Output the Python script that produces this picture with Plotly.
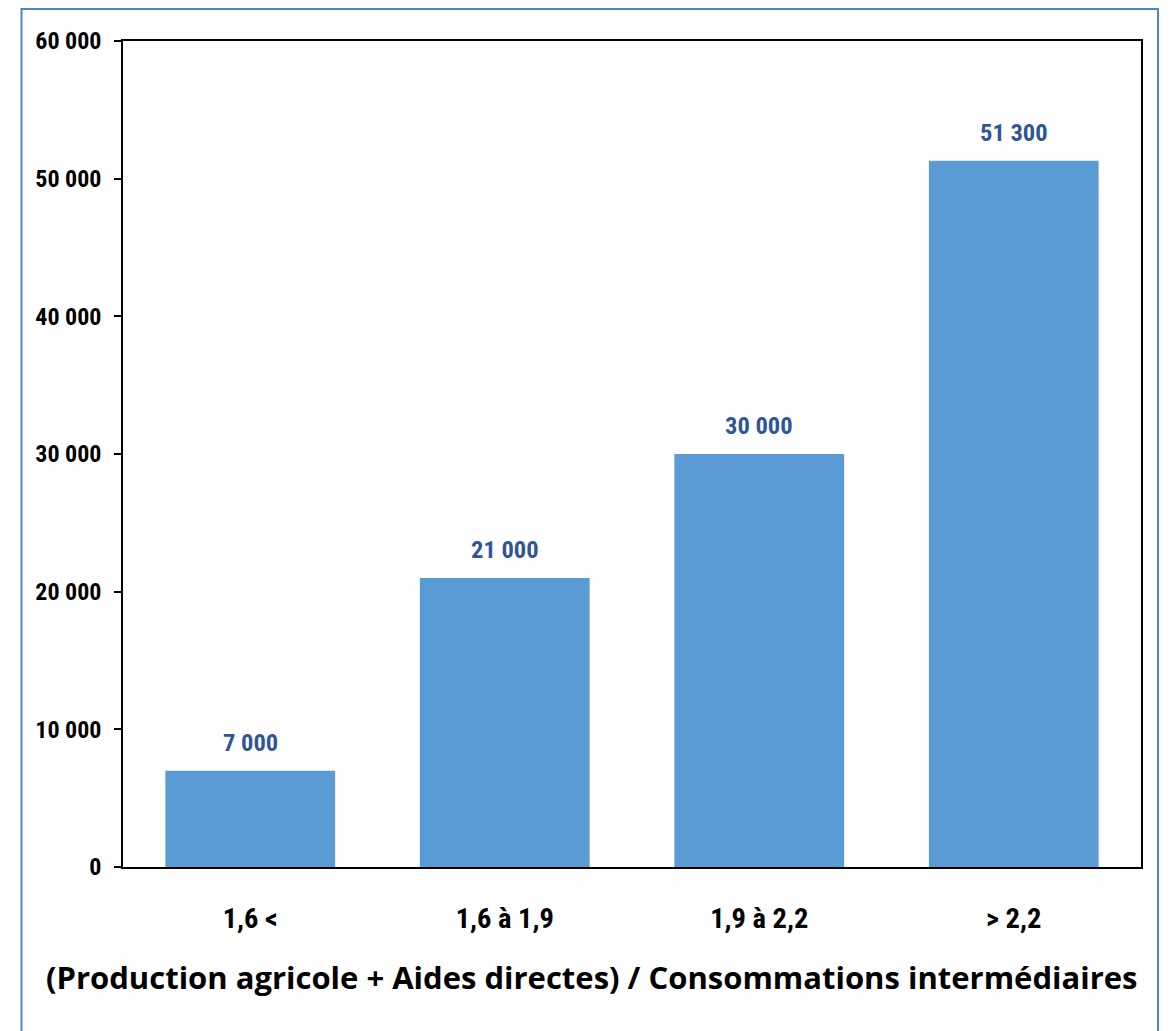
import plotly.graph_objects as go

categories = ["1,6 <", "1,6 à 1,9", "1,9 à 2,2", "> 2,2"]
values = [7000, 21000, 30000, 51300]
y_ticks = [0, 10000, 20000, 30000, 40000, 50000, 60000]
x_title = "(Production agricole + Aides directes) / Consommations intermédiaires"

# page body has an 8px margin; compensate so the figure lands in the window
OFF = 8
W, H = 1170 - OFF, 1031 - OFF
# target screen coordinates of plot area
SL, SR, ST, SB = 123, 1141, 41, 867
ML, MR, MT, MB = SL - OFF, W - (SR - OFF), ST - OFF, H - (SB - OFF)
pw, ph = W - ML - MR, H - MT - MB

narrow = "Roboto Condensed, Roboto, sans-serif"

fig = go.Figure()
fig.add_trace(go.Bar(x=categories, y=values, marker=dict(color="#5B9BD5", line=dict(width=0)),
                     hoverinfo="skip"))

for c, v in zip(categories, values):
    fig.add_annotation(x=c, y=v, text=f"{v:,}".replace(",", " "), showarrow=False,
                       yanchor="bottom", yshift=12,
                       font=dict(family=narrow, size=24.5, color="#2F5597", weight="bold"))


# screen pixel -> paper coords
def px_x(p):
    return (p - SL) / pw


def px_y(p):
    return (SB - p) / ph


fig.add_shape(type="rect", xref="paper", yref="paper",
              x0=px_x(21.5), x1=px_x(1158), y0=px_y(1045), y1=px_y(9),
              line=dict(color="#4A86C8", width=2), fillcolor="rgba(0,0,0,0)", layer="below")

fig.add_annotation(xref="paper", yref="paper", x=px_x(591), y=px_y(977),
                   text=x_title, showarrow=False, xanchor="center", yanchor="middle",
                   font=dict(family="Open Sans, sans-serif", size=31, color="black", weight="bold"))

fig.update_layout(
    width=W, height=H,
    margin=dict(l=ML, r=MR, t=MT, b=MB, autoexpand=False),
    paper_bgcolor="white", plot_bgcolor="white",
    bargap=0.333,
    separators=", ",
    showlegend=False,
    font=dict(family=narrow, color="black"),
)
fig.update_yaxes(range=[0, 60000], tickvals=y_ticks, tickformat=",d", automargin=False,
                 showgrid=False, zeroline=False,
                 showline=True, linecolor="black", linewidth=1.5, mirror=True,
                 ticks="outside", ticklen=7, tickcolor="black", tickwidth=1.5,
                 ticklabelstandoff=8,
                 tickfont=dict(family=narrow, size=24, color="black", weight="bold"))
fig.update_xaxes(showgrid=False, showline=True, linecolor="black", linewidth=1.5, mirror=True,
                 ticks="", ticklabelstandoff=25, automargin=False,
                 tickfont=dict(family=narrow, size=28.5, color="black", weight="bold"))

fig.write_html("out.html")
